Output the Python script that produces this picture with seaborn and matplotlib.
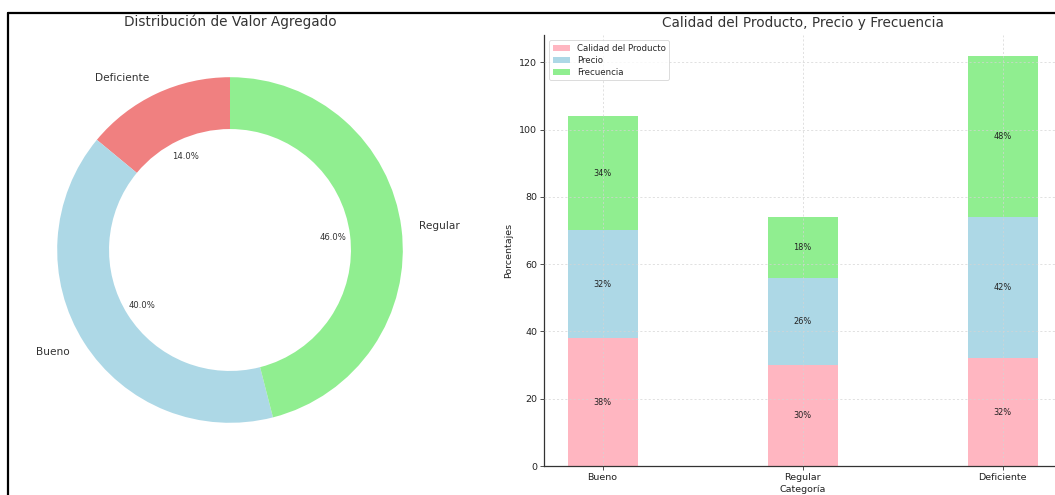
import matplotlib
matplotlib.use("Agg")
import matplotlib.pyplot as plt
import seaborn as sns
import numpy as np
from matplotlib.lines import Line2D

# ---- data ----
pie_labels = ["Deficiente", "Bueno", "Regular"]
pie_values = [14, 40, 46]
pie_colors = ["#F08080", "#ADD8E6", "#90EE90"]

categories = ["Bueno", "Regular", "Deficiente"]
calidad = [38, 30, 32]
precio = [32, 26, 42]
frecuencia = [34, 18, 48]
series_names = ["Calidad del Producto", "Precio", "Frecuencia"]
bar_colors = ["#FFB6C1", "#ADD8E6", "#90EE90"]

sns.set_theme(style="white")
plt.rcParams["font.family"] = ["DejaVu Sans"]

W, H = 1055, 495
fig = plt.figure(figsize=(W / 100, H / 100), dpi=100)
txt = "#333333"

# ---- donut ----
ax1 = fig.add_axes([14 / W, (H - 466) / H, 432 / W, 432 / H])
wedges, texts, autotexts = ax1.pie(
    pie_values, labels=pie_labels, colors=pie_colors, autopct="%1.1f%%",
    startangle=90, wedgeprops=dict(width=0.3, linewidth=0, edgecolor="none"),
    textprops=dict(fontsize=7.6, color=txt))
for t in autotexts:
    t.set_fontsize(6.1)
ax1.set_aspect("equal")
ax1.set_title("Distribución de Valor Agregado", fontsize=9.8, color=txt, pad=6)

# ---- stacked bars ----
ax2 = fig.add_axes([544 / W, (H - 466) / H, 517 / W, 431 / H])
bar_w = 0.35
bottoms = np.zeros(len(categories))
for name, vals, col in zip(series_names, [calidad, precio, frecuencia], bar_colors):
    sns.barplot(x=categories, y=vals, order=categories, color=col, saturation=1,
                width=bar_w, bottom=bottoms.copy(), label=name, errorbar=None,
                linewidth=0, ax=ax2)
    for i, (b, v) in enumerate(zip(bottoms, vals)):
        ax2.text(i, b + v / 2, f"{v}%", ha="center", va="center",
                 fontsize=5.9, color="#222222")
    bottoms += np.array(vals)

n = len(categories)
m = 0.05 * (n - 1 + bar_w)
ax2.set_xlim(-bar_w / 2 - m, n - 1 + bar_w / 2 + m)
ax2.set_ylim(0, bottoms.max() * 1.05)
ax2.grid(True, linestyle=(0, (3, 3)), color="#d4d4d4", linewidth=0.5)
ax2.set_axisbelow(False)
for s in ["top", "right"]:
    ax2.spines[s].set_visible(False)
for s in ["left", "bottom"]:
    ax2.spines[s].set_color("#333333")
    ax2.spines[s].set_linewidth(0.9)
ax2.tick_params(axis="both", bottom=True, left=True, length=3, width=0.6,
                color="#333333", labelsize=6.8, labelcolor="#222222", pad=2)
ax2.set_xlabel("Categoría", fontsize=6.8, color="#222222", labelpad=2)
ax2.set_ylabel("Porcentajes", fontsize=6.8, color="#222222", labelpad=4)
ax2.set_title("Calidad del Producto, Precio y Frecuencia", fontsize=9.8, color=txt, pad=6)
leg = ax2.legend(loc="upper left", fontsize=6.2, frameon=True, handlelength=2.0,
                 borderaxespad=0.6, labelspacing=0.35)
leg.get_frame().set_edgecolor("#cccccc")
leg.get_frame().set_linewidth(0.6)

# ---- outer frame (top and left edges visible) ----
fig.add_artist(Line2D([7.5 / W, 1.01], [1 - 13 / H, 1 - 13 / H], color="black",
                      linewidth=1.6, transform=fig.transFigure))
fig.add_artist(Line2D([7.5 / W, 7.5 / W], [-0.01, 1 - 13 / H], color="black",
                      linewidth=1.6, transform=fig.transFigure))

fig.savefig("out.png", dpi=100)
